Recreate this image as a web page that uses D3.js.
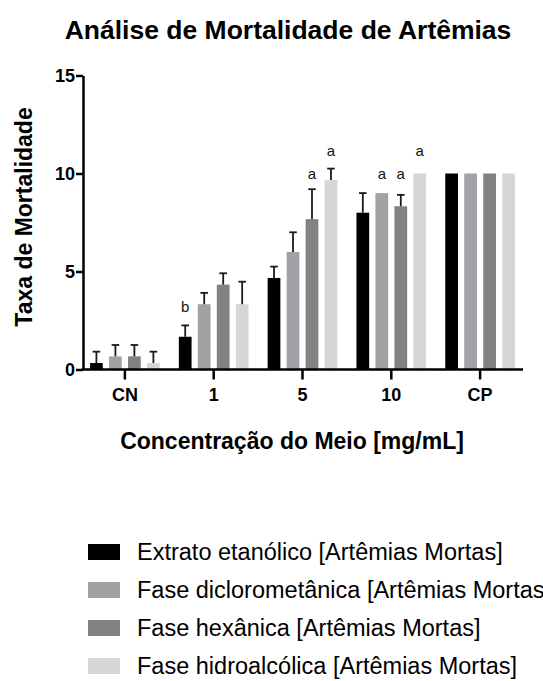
<!DOCTYPE html>
<html>
<head>
<meta charset="utf-8">
<script src="https://cdn.jsdelivr.net/npm/d3@7/dist/d3.min.js"></script>
<style>
  html, body { margin: 0; padding: 0; background: #fff; }
  svg { display: block; font-family: "Liberation Sans", Arial, sans-serif; }
</style>
</head>
<body>
<svg id="chart" width="543" height="681"></svg>
<script>
const categories = ["CN", "1", "5", "10", "CP"];
const seriesNames = [
  "Extrato etanólico [Artêmias Mortas]",
  "Fase diclorometânica [Artêmias Mortas]",
  "Fase hexânica [Artêmias Mortas]",
  "Fase hidroalcólica [Artêmias Mortas]"
];
const seriesColors = ["#000000", "#a2a2a6", "#828282", "#d6d6d6"];

const extratoValues = [0.33, 1.67, 4.67, 8.0, 10];
const extratoErrors = [0.58, 0.58, 0.58, 1.0, 0];
const dicloroValues = [0.67, 3.33, 6.0, 9.0, 10];
const dicloroErrors = [0.58, 0.58, 1.0, 0, 0];
const hexanicaValues = [0.67, 4.33, 7.67, 8.33, 10];
const hexanicaErrors = [0.58, 0.58, 1.53, 0.58, 0];
const hidroValues = [0.33, 3.33, 9.67, 10, 10];
const hidroErrors = [0.58, 1.15, 0.58, 0, 0];

const yTicks = [0, 5, 10, 15];

// significance letters: [category, series index, letter, height (value units)]
const letterCats = ["1", "5", "5", "10", "10", "10"];
const letterSeries = [0, 2, 3, 1, 2, 3];
const letterTexts = ["b", "a", "a", "a", "a", "a"];
const letterLevels = [3.2, 10.0, 11.15, 10.0, 10.0, 11.15];

const allValues = [extratoValues, dicloroValues, hexanicaValues, hidroValues];
const allErrors = [extratoErrors, dicloroErrors, hexanicaErrors, hidroErrors];

const data = [];
categories.forEach((c, ci) => {
  seriesNames.forEach((s, si) => {
    data.push({ cat: c, si: si, value: allValues[si][ci], err: allErrors[si][ci] });
  });
});

const svg = d3.select("#chart");
const FONT = "Liberation Sans, Arial, sans-serif";

const axisX = 83, axisRight = 523;
const y = d3.scaleLinear().domain([0, 15]).range([369.5, 75.5]);
const x0 = d3.scaleBand().domain(categories).range([80.5, 524.5]).padding(0);
const x1 = d3.scaleBand().domain(d3.range(seriesNames.length)).range([-34.85, 34.85]).paddingInner(0.33).paddingOuter(0);
const color = d3.scaleOrdinal().domain(d3.range(seriesNames.length)).range(seriesColors);

const barX = d => x0(d.cat) + x0.bandwidth() / 2 + x1(d.si);

// bars
svg.append("g").selectAll("rect").data(data).join("rect")
  .attr("x", barX)
  .attr("y", d => y(d.value))
  .attr("width", x1.bandwidth())
  .attr("height", d => y(0) - y(d.value))
  .attr("fill", d => color(d.si));

// error bars
const eb = svg.append("g").attr("stroke", "#1a1a1a").attr("stroke-width", 1.8);
const withErr = data.filter(d => d.err > 0);
eb.selectAll("line.v").data(withErr).join("line").attr("class", "v")
  .attr("x1", d => barX(d) + x1.bandwidth() / 2)
  .attr("x2", d => barX(d) + x1.bandwidth() / 2)
  .attr("y1", d => y(d.value))
  .attr("y2", d => y(d.value + d.err));
eb.selectAll("line.c").data(withErr).join("line").attr("class", "c")
  .attr("x1", d => barX(d) + x1.bandwidth() / 2 - 3.8)
  .attr("x2", d => barX(d) + x1.bandwidth() / 2 + 3.8)
  .attr("y1", d => y(d.value + d.err))
  .attr("y2", d => y(d.value + d.err));

// letters
svg.append("g").selectAll("text").data(letterTexts).join("text")
  .attr("x", (t, i) => x0(letterCats[i]) + x0.bandwidth() / 2 + x1(letterSeries[i]) + x1.bandwidth() / 2)
  .attr("y", (t, i) => y(letterLevels[i]))
  .attr("dy", "0.35em")
  .attr("text-anchor", "middle")
  .attr("font-size", 15)
  .attr("fill", "#111")
  .text(t => t);

// y axis
const yAxis = d3.axisLeft(y).tickValues(yTicks).tickSize(7).tickSizeOuter(0).tickPadding(1);
const gy = svg.append("g").attr("transform", `translate(${axisX},0)`).call(yAxis);
gy.select(".domain").attr("stroke-width", 2.5).attr("stroke", "#000");
gy.selectAll(".tick line").attr("stroke-width", 2.5).attr("stroke", "#000");
gy.selectAll(".tick text").attr("font-size", 18).attr("font-weight", "bold").attr("fill", "#000")
  .attr("font-family", FONT);

// x axis
const xAxis = d3.axisBottom(x0).tickSize(10).tickSizeOuter(0).tickPadding(9);
const gx = svg.append("g").attr("transform", `translate(0,${y(0)})`).call(xAxis);
gx.select(".domain").remove();
gx.append("line").attr("x1", axisX - 1.25).attr("x2", axisRight).attr("y1", 0).attr("y2", 0)
  .attr("stroke", "#000").attr("stroke-width", 2.5);
gx.selectAll(".tick line").attr("stroke-width", 2.5).attr("stroke", "#000");
gx.selectAll(".tick text").attr("font-size", 18).attr("font-weight", "bold").attr("fill", "#000")
  .attr("font-family", FONT);

// titles
svg.append("text").attr("x", 288).attr("y", 39).attr("text-anchor", "middle")
  .attr("font-size", 26.5).attr("font-weight", "bold").text("Análise de Mortalidade de Artêmias");
svg.append("text").attr("x", 292).attr("y", 449).attr("text-anchor", "middle")
  .attr("font-size", 23).attr("font-weight", "bold").text("Concentração do Meio [mg/mL]");
svg.append("text").attr("transform", "translate(32,217) rotate(-90)").attr("text-anchor", "middle")
  .attr("font-size", 23).attr("font-weight", "bold").text("Taxa de Mortalidade");

// legend
const lg = svg.append("g");
const rowY = d3.scalePoint().domain(d3.range(seriesNames.length)).range([552, 666]);
const rows = lg.selectAll("g").data(seriesNames).join("g")
  .attr("transform", (s, i) => `translate(0,${rowY(i)})`);
rows.append("rect").attr("x", 88).attr("y", -8).attr("width", 32).attr("height", 16)
  .attr("fill", (s, i) => color(i));
rows.append("text").attr("x", 137).attr("y", 0).attr("dy", "0.35em")
  .attr("font-size", 23.5).attr("fill", "#000").text(s => s);
</script>
</body>
</html>
